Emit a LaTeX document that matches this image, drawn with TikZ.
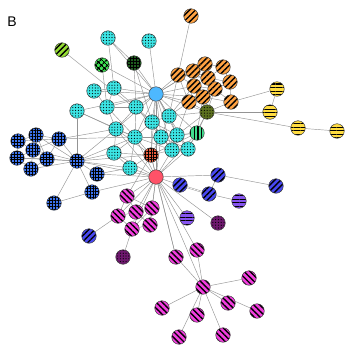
\documentclass[tikz,border=0pt]{standalone}
\usepackage{fontspec}
\setmainfont{Liberation Sans}
\usetikzlibrary{patterns.meta,backgrounds}

\definecolor{cyanfill}{RGB}{60,228,228}
\definecolor{hubblue}{RGB}{77,184,255}
\definecolor{hubred}{RGB}{255,82,104}
\definecolor{rustfill}{RGB}{236,92,60}
\definecolor{orangefill}{RGB}{255,162,66}
\definecolor{yellowfill}{RGB}{255,220,64}
\definecolor{olivefill}{RGB}{92,112,30}
\definecolor{seafill}{RGB}{64,222,142}
\definecolor{limefill}{RGB}{150,222,52}
\definecolor{checkfill}{RGB}{64,232,84}
\definecolor{forestfill}{RGB}{30,92,30}
\definecolor{gridblue}{RGB}{60,116,240}
\definecolor{stripeblue}{RGB}{72,72,242}
\definecolor{violetfill}{RGB}{134,84,240}
\definecolor{plumfill}{RGB}{110,24,110}
\definecolor{magentafill}{RGB}{242,62,222}

\begin{document}
\begin{tikzpicture}[
      x=1pt, y=-1pt,
      edge_style/.style={draw, black!42, line width=0.45pt},
      pair_style/.style={edge_style, double=white, double distance=0.7pt},
      node_base/.style={circle, draw=black!75, line width=0.5pt, minimum size=14.5pt, inner sep=0pt},
      solid_node/.style={node_base, fill=#1},
      dots_node/.style={node_base, preaction={fill=#1}, pattern={Dots[distance=2.8pt, radius=0.6pt]}, pattern color=black},
      grid_node/.style={node_base, preaction={fill=#1}, pattern={Hatch[distance=2.9pt, line width=0.45pt]}, pattern color=black},
      check_node/.style={node_base, preaction={fill=#1}, pattern={Hatch[angle=45, distance=4pt, line width=1.3pt]}, pattern color=black},
      ne_node/.style={node_base, preaction={fill=#1}, pattern={Lines[angle=45, distance=4.2pt, line width=1.4pt]}, pattern color=black},
      nw_node/.style={node_base, preaction={fill=#1}, pattern={Lines[angle=-45, distance=4.2pt, line width=1.4pt]}, pattern color=black},
      horiz_node/.style={node_base, preaction={fill=#1}, pattern={Lines[angle=0, distance=3.6pt, line width=1.3pt]}, pattern color=black},
      vert_node/.style={node_base, preaction={fill=#1}, pattern={Lines[angle=90, distance=3.6pt, line width=1.3pt]}, pattern color=black},
      label_style/.style={font=\fontsize{14}{16}\selectfont}
  ]
      \useasboundingbox (0,0) rectangle (354,354);
      \node[label_style] (panel_label) at (12,22) {B};

      % hubs and single nodes
      \node[solid_node=hubblue] (lb) at (156,94) {};
      \node[solid_node=hubred] (vj) at (156,177) {};
      \node[grid_node=rustfill] (ro) at (151,155) {};
      \node[ne_node=limefill] (lime) at (62,50) {};
      \node[check_node=checkfill] (chk) at (102,65) {};
      \node[grid_node=forestfill] (dg) at (134,63) {};
      \node[dots_node=olivefill] (olive) at (207,112) {};
      \node[vert_node=seafill] (gs) at (197,133) {};

      % communities
      \foreach \n/\x/\y in {c1/108/38, c2/149/41, c3/94/91, c4/114/88, c5/77/111, c6/107/107,
          c7/136/107, c8/169/116, c9/152/122, c10/116/129, c11/135/137, c12/161/137,
          c13/177/135, c14/172/150, c15/188/149, c16/114/153, c17/130/168}
          \node[dots_node=cyanfill] (\n) at (\x,\y) {};
      \foreach \n/\x/\y in {o1/191/16, o2/178/75, o3/193/71, o4/205/64, o5/223/67, o6/208/78,
          o7/194/86, o8/215/89, o9/230/82, o10/189/102, o11/203/97, o12/231/102}
          \node[ne_node=orangefill] (\n) at (\x,\y) {};
      \foreach \n/\x/\y in {y1/277/89, y2/270/112, y3/298/128, y4/337/131}
          \node[horiz_node=yellowfill] (\n) at (\x,\y) {};
      \foreach \n/\x/\y in {g1/18/141, g2/36/135, g3/59/139, g4/33/150, g5/17/158, g6/47/159,
          g7/31/169, g8/77/161, g9/97/174, g10/92/192, g11/54/203}
          \node[grid_node=gridblue] (\n) at (\x,\y) {};
      \foreach \n/\x/\y in {m1/127/196, m2/152/208, m3/136/212, m4/118/216, m5/150/225, m6/132/229,
          m7/197/250, m8/176/257, mh/203/287, m9/249/278, m10/162/308, m11/197/315,
          m12/228/303, m13/257/311, m14/179/337, m15/223/335}
          \node[nw_node=magentafill] (\n) at (\x,\y) {};
      \foreach \n/\x/\y in {b1/180/185, b2/218/175, b3/276/186, b4/209/194, b5/89/236}
          \node[ne_node=stripeblue] (\n) at (\x,\y) {};
      \foreach \n/\x/\y in {p1/239/201, p2/187/218}
          \node[horiz_node=violetfill] (\n) at (\x,\y) {};
      \foreach \n/\x/\y in {d1/218/223, d2/123/257}
          \node[dots_node=plumfill] (\n) at (\x,\y) {};

      % links
      \begin{scope}[on background layer]
      \foreach \a/\b in {lb/c1, lb/c2, lb/c3, lb/c4, lb/c5, lb/c6, lb/c7, lb/c8, lb/c9, lb/c10,
          lb/c11, lb/c12, lb/c13, lb/c14, lb/c15, lb/chk, lb/dg, lb/o2, lb/o3, lb/o4, lb/o7,
          lb/o10, lb/o11, lb/olive, lb/gs, lb/ro, lb/vj,
          c1/c4, c1/dg, c3/c4, c3/c6, c4/c6, c4/c7, c5/c10, c5/c11, c5/g8, chk/c6, dg/c7, dg/c9,
          lime/c9, c6/c7, c6/c10, c6/c11, c7/c9, c7/c10, c7/c11, c7/c12, c8/c9, c8/c12, c8/c13,
          c8/o10, c8/olive, c8/o2, c8/o7, c9/c11, c9/c12, c9/c13, c9/c14, c9/ro, c10/c11,
          c10/c16, c10/ro, c10/g3, c10/g8, c10/vj, c11/c12, c11/c14, c11/c16, c11/c17, c11/ro,
          c11/vj, c11/g8, c11/g3, c12/c13, c12/c14, c12/c15, c12/ro, c12/vj, c12/gs, c13/c14,
          c13/c15, c13/gs, c13/olive, c13/o10, c14/c15, c14/ro, c14/vj, c15/vj, c15/gs,
          c15/olive, c16/c17, c16/vj, c16/g8, c16/ro, c17/vj, c17/ro, c17/g9, c17/g8,
          ro/vj, ro/gs, ro/g8, gs/olive, gs/vj, gs/o11,
          olive/o10, olive/o11, olive/o12, olive/o8, olive/y2, olive/y3,
          o1/o2, o2/o3, o2/o4, o2/o6, o2/o7, o2/o10, o3/o4, o3/o6, o3/o7, o3/o8, o4/o5, o4/o6,
          o4/o8, o5/o6, o5/o9, o6/o7, o6/o8, o6/o9, o7/o8, o7/o10, o7/o11, o8/o9, o8/o11,
          o8/o12, o9/o12, o10/o11, o11/o12, o12/y1, y1/y2, y3/y4,
          g1/g2, g1/g3, g1/g4, g1/g5, g2/g3, g2/g4, g2/g6, g3/g4, g3/g6, g4/g5, g4/g6, g4/g7,
          g5/g6, g5/g7, g6/g7, g8/g2, g8/g3, g8/g4, g8/g5, g8/g6, g8/g7, g8/g9, g8/g10, g8/g11,
          g10/g11, g9/vj, g10/vj, g8/vj,
          m1/m2, m1/m3, m1/m4, m2/m3, m2/m5, m2/m6, m3/m4, m3/m5, m3/m6, m4/m6, m5/m6,
          vj/m1, vj/m2, vj/m3, vj/m4, vj/m5, vj/m6, m4/b5, m6/d2, m1/ro,
          vj/m7, vj/m8, vj/mh, ro/m8, m7/mh, m8/mh, mh/m9, mh/m10, mh/m11, mh/m12, mh/m13,
          mh/m14, mh/m15, vj/b1, vj/b2, b2/b3, b2/b4, b4/p1, vj/p2, vj/d1}
          \draw[edge_style] (\a) -- (\b);
      \draw[pair_style] (b1) -- (b4);
      \end{scope}
  \end{tikzpicture}
\end{document}
